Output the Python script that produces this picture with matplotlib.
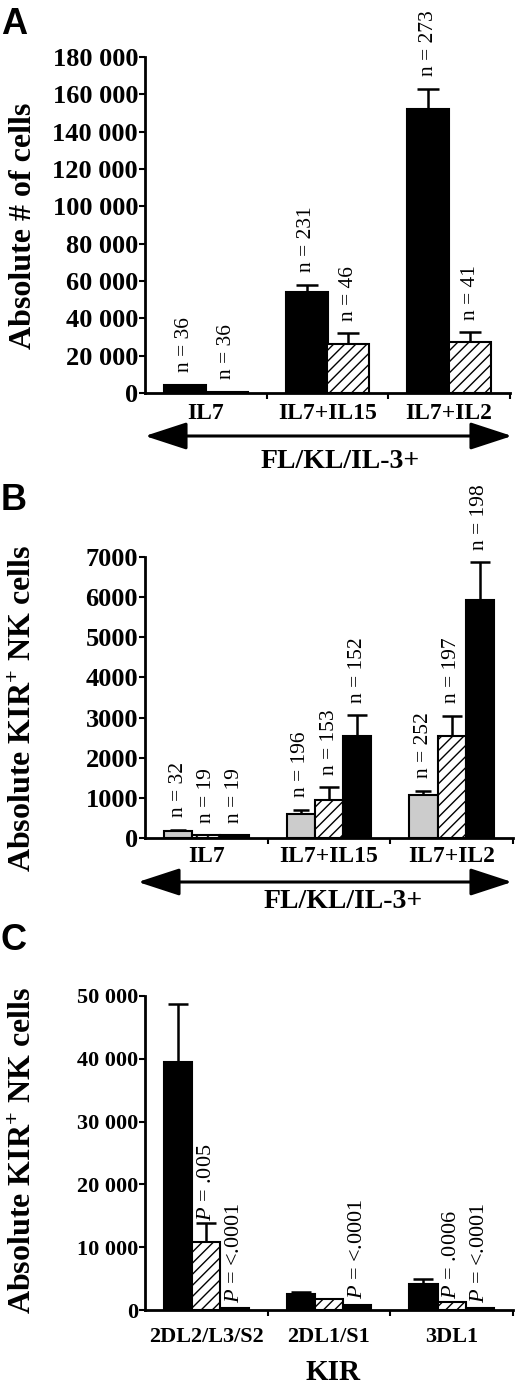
import matplotlib
matplotlib.use("Agg")
import matplotlib.pyplot as plt
from matplotlib.patches import FancyArrowPatch
import numpy as np

plt.rcParams['font.family'] = ['Liberation Serif', 'DejaVu Serif']
plt.rcParams['mathtext.fontset'] = 'custom'
plt.rcParams['mathtext.it'] = 'Liberation Serif:italic'
plt.rcParams['mathtext.rm'] = 'Liberation Serif'
plt.rcParams['mathtext.bf'] = 'Liberation Serif:bold'
plt.rcParams['hatch.linewidth'] = 1.0

# ---------------- data ----------------
groups_ab = ['IL7', 'IL7+IL15', 'IL7+IL2']

a_ticks = [0, 20000, 40000, 60000, 80000, 100000, 120000, 140000, 160000, 180000]
a_black = [4500, 54000, 152000]
a_black_err = [0, 4000, 11000]
a_black_n = ['n = 36', 'n = 231', 'n = 273']
a_hatch = [600, 26000, 27500]
a_hatch_err = [0, 6000, 5000]
a_hatch_n = ['n = 36', 'n = 46', 'n = 41']

b_ticks = [0, 1000, 2000, 3000, 4000, 5000, 6000, 7000]
b_dot = [180, 600, 1080]
b_dot_err = [20, 100, 100]
b_dot_n = ['n = 32', 'n = 196', 'n = 252']
b_hatch = [70, 950, 2550]
b_hatch_err = [0, 310, 500]
b_hatch_n = ['n = 19', 'n = 153', 'n = 197']
b_black = [70, 2530, 5920]
b_black_err = [0, 530, 950]
b_black_n = ['n = 19', 'n = 152', 'n = 198']

kir = ['2DL2/L3/S2', '2DL1/S1', '3DL1']
c_ticks = [0, 10000, 20000, 30000, 40000, 50000]
c_black = [39500, 2500, 4200]
c_black_err = [9300, 400, 800]
c_hatch = [10900, 1700, 1300]
c_hatch_err = [2900, 0, 0]
c_hatch_p = ['.005', '', '.0006']
c_black2 = [300, 800, 300]
c_black2_err = [0, 0, 0]
c_black2_p = ['<.0001', '<.0001', '<.0001']

# ---------------- figure ----------------
W, H = 520, 1387
fig = plt.figure(figsize=(W / 100, H / 100), dpi=100)


def axes_px(left, top, right, bottom):
    return fig.add_axes([left / W, 1 - bottom / H, (right - left) / W, (bottom - top) / H])


def fmt(v):
    return f"{v:,}".replace(",", " ") if v >= 10000 else str(v)


def style_axes(ax, ticks, ymax, ylabsize, cats, xlabsize, xpad):
    ax.set_xlim(-0.5, 2.5)
    ax.set_ylim(0, ymax)
    for s in ['top', 'right']:
        ax.spines[s].set_visible(False)
    for s in ['left', 'bottom']:
        ax.spines[s].set_linewidth(2)
    ax.set_yticks(ticks, [fmt(t) for t in ticks], fontweight='bold', fontsize=ylabsize)
    ax.tick_params(axis='y', direction='out', length=4, width=1.5, pad=1)
    ax.set_xticks(range(len(cats)), cats, fontweight='bold', fontsize=xlabsize)
    ax.tick_params(axis='x', length=0, pad=xpad)
    ax.set_xticks([0.5, 1.5, 2.5], minor=True)
    ax.tick_params(axis='x', which='minor', direction='out', length=4, width=1.5)
    ax.tick_params(axis='y', which='minor', length=0)


def bars(ax, xs, vals, errs, kind, width, capsize):
    if kind == 'black':
        kw = dict(color='black', edgecolor='black')
    elif kind == 'hatch':
        kw = dict(color='white', edgecolor='black', hatch='///')
    else:
        kw = dict(color='#cccccc', edgecolor='black')
    ax.bar(xs, vals, width=width, linewidth=1.5, zorder=2, **kw)
    ax.errorbar(xs, vals, yerr=[np.zeros(len(errs)), errs], fmt='none', ecolor='black',
                elinewidth=1.8, capsize=capsize, capthick=1.8, zorder=1)


def labels(ax, xs, vals, errs, texts, size, off):
    for x, v, e, t in zip(xs, vals, errs, texts):
        if not t:
            continue
        ax.annotate(t, (x, v + e), xytext=(0, off), textcoords='offset points',
                    rotation=90, ha='center', va='bottom', fontsize=size,
                    annotation_clip=False)


def arrow(y, x0, x1):
    a = FancyArrowPatch((x0 / W, 1 - y / H), (x1 / W, 1 - y / H), transform=fig.transFigure,
                        arrowstyle='<|-|>,head_length=26,head_width=8.5',
                        mutation_scale=1, lw=2.2, color='black', shrinkA=0, shrinkB=0)
    fig.add_artist(a)


x = np.arange(3)

# ---------- Panel A ----------
axA = axes_px(145, 57, 510, 393)
wA = 0.345
bars(axA, x - wA / 2, a_black, a_black_err, 'black', wA, 8)
bars(axA, x + wA / 2, a_hatch, a_hatch_err, 'hatch', wA, 8)
labels(axA, x - wA / 2, a_black, a_black_err, a_black_n, 15.5, 9)
labels(axA, x + wA / 2, a_hatch, a_hatch_err, a_hatch_n, 15.5, 9)
style_axes(axA, a_ticks, 180000, 19, groups_ab, 17, 7)
fig.text(24 / W, 1 - 226 / H, 'Absolute # of cells', rotation=90, ha='center', va='center',
         fontsize=23, fontweight='bold')
arrow(436, 145, 512)
fig.text(340 / W, 1 - 462 / H, 'FL/KL/IL-3+', ha='center', va='center', fontsize=20, fontweight='bold')
fig.text(1 / W, 1 - 24 / H, 'A', ha='left', va='center', fontsize=26, fontweight='bold',
         family='Liberation Sans')

# ---------- Panel B ----------
axB = axes_px(145, 557, 513, 838)
wB = 0.23
bars(axB, x - wB, b_dot, b_dot_err, 'dot', wB, 6)
bars(axB, x, b_hatch, b_hatch_err, 'hatch', wB, 7)
bars(axB, x + wB, b_black, b_black_err, 'black', wB, 7)
labels(axB, x - wB, b_dot, b_dot_err, b_dot_n, 15.5, 9)
labels(axB, x, b_hatch, b_hatch_err, b_hatch_n, 15.5, 9)
labels(axB, x + wB, b_black, b_black_err, b_black_n, 15.5, 9)
style_axes(axB, b_ticks, 7000, 19, groups_ab, 17, 6)
fig.text(24 / W, 1 - 708 / H, r'Absolute KIR$^{\mathbf{+}}$ NK cells', rotation=90, ha='center',
         va='center', fontsize=23, fontweight='bold')
arrow(882, 138, 512)
fig.text(343 / W, 1 - 902 / H, 'FL/KL/IL-3+', ha='center', va='center', fontsize=20, fontweight='bold')
fig.text(1 / W, 1 - 500 / H, 'B', ha='left', va='center', fontsize=26, fontweight='bold',
         family='Liberation Sans')

# ---------- Panel C ----------
axC = axes_px(145, 996, 513, 1310)
wC = 0.23
bars(axC, x - wC, c_black, c_black_err, 'black', wC, 7)
bars(axC, x, c_hatch, c_hatch_err, 'hatch', wC, 7)
bars(axC, x + wC, c_black2, c_black2_err, 'black', wC, 7)
labels(axC, x, c_hatch, c_hatch_err, ['$P$ = ' + p if p else '' for p in c_hatch_p], 16, 2)
labels(axC, x + wC, c_black2, c_black2_err, ['$P$ = ' + p if p else '' for p in c_black2_p], 16, 4)
style_axes(axC, c_ticks, 50000, 16, kir, 16, 12)
fig.text(24 / W, 1 - 1150 / H, r'Absolute KIR$^{\mathbf{+}}$ NK cells', rotation=90, ha='center',
         va='center', fontsize=23, fontweight='bold')
fig.text(333 / W, 1 - 1373 / H, 'KIR', ha='center', va='center', fontsize=21, fontweight='bold')
fig.text(1 / W, 1 - 940 / H, 'C', ha='left', va='center', fontsize=26, fontweight='bold',
         family='Liberation Sans')

fig.savefig('out.png', dpi=100)
